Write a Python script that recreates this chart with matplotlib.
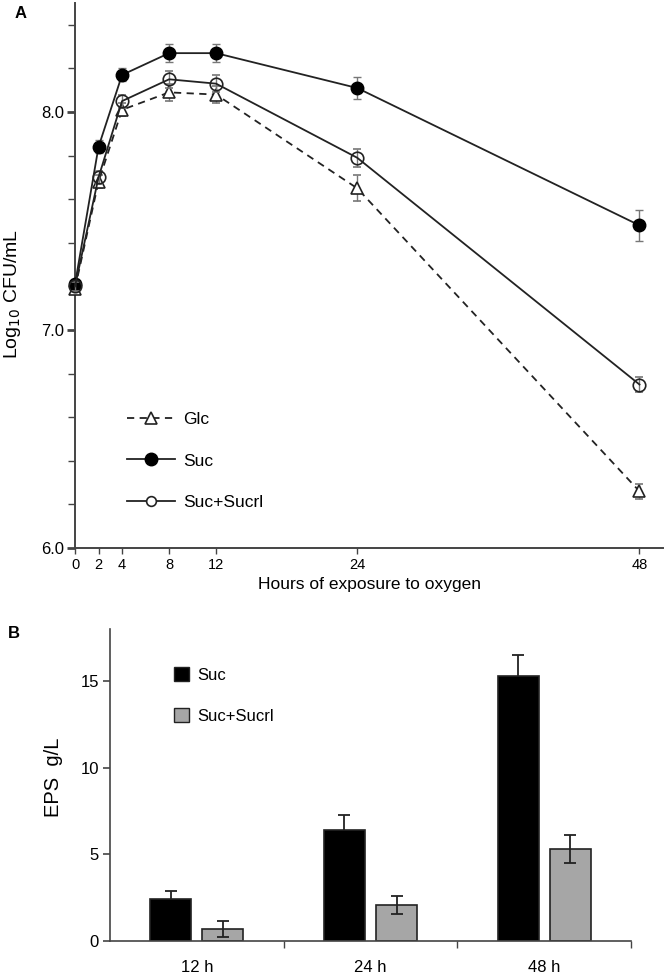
import matplotlib
matplotlib.use("Agg")
import matplotlib.pyplot as plt
from matplotlib.ticker import MultipleLocator, FixedLocator, NullFormatter
from matplotlib.patches import Patch
from matplotlib.lines import Line2D

plt.rcParams['font.family'] = ['Liberation Sans', 'DejaVu Sans']

# ---- Panel A data ----
hours = [0, 2, 4, 8, 12, 24, 48]
glc = [7.19, 7.68, 8.01, 8.09, 8.08, 7.65, 6.26]
glc_err = [0.02, 0.03, 0.03, 0.04, 0.04, 0.06, 0.035]
suc = [7.21, 7.84, 8.17, 8.27, 8.27, 8.11, 7.48]
suc_err = [0.02, 0.03, 0.03, 0.04, 0.04, 0.05, 0.07]
sucrl = [7.20, 7.70, 8.05, 8.15, 8.13, 7.79, 6.75]
sucrl_err = [0.02, 0.03, 0.03, 0.04, 0.04, 0.04, 0.035]
x_ticks_a = [0, 2, 4, 8, 12, 24, 48]

# ---- Panel B data ----
groups = ['12 h', '24 h', '48 h']
eps_suc = [2.41, 6.38, 15.29]
eps_suc_err = [0.46, 0.9, 1.2]
eps_sucrl = [0.69, 2.07, 5.29]
eps_sucrl_err = [0.48, 0.5, 0.8]

W, H = 666, 974
fig = plt.figure(figsize=(W / 100, H / 100), dpi=100)

spine_col = '#444444'
line_col = '#222222'
err_col = '#777777'
dash = (0, (4, 3))

# Panel A axes
axA = fig.add_axes([75 / W, 1 - 548 / H, (663 - 75) / W, (548 - 3) / H])
axA.set_xlim(0, 50)
axA.set_ylim(6.0, 8.5)

kw_err = dict(ecolor=err_col, elinewidth=1.0, capsize=3, capthick=1.0, clip_on=False)
axA.errorbar(hours, glc, yerr=glc_err, color=line_col, linestyle=dash, lw=1.3,
             marker='^', markersize=9, markerfacecolor='white', markeredgecolor=line_col,
             markeredgewidth=1.2, zorder=3, **kw_err)
axA.errorbar(hours, suc, yerr=suc_err, color=line_col, linestyle='-', lw=1.3,
             marker='o', markersize=9, markerfacecolor='black', markeredgecolor='black',
             zorder=4, **kw_err)
axA.errorbar(hours, sucrl, yerr=sucrl_err, color=line_col, linestyle='-', lw=1.3,
             marker='o', markersize=9, markerfacecolor='none', markeredgecolor=line_col,
             markeredgewidth=1.2, zorder=5, **kw_err)

for s in ['top', 'right']:
    axA.spines[s].set_visible(False)
for s in ['left', 'bottom']:
    axA.spines[s].set_color(spine_col)
    axA.spines[s].set_linewidth(1.4)

axA.set_xticks(x_ticks_a)
axA.set_xticklabels([str(v) for v in x_ticks_a])
axA.set_yticks([6.0, 7.0, 8.0])
axA.set_yticklabels(['6.0', '7.0', '8.0'])
axA.yaxis.set_minor_locator(MultipleLocator(0.2))
axA.tick_params(axis='y', which='major', length=6, width=2, color=spine_col, labelsize=12, pad=2)
axA.tick_params(axis='y', which='minor', length=5, width=1, color=spine_col)
axA.tick_params(axis='x', which='major', length=4, width=1, color=spine_col, labelsize=10.5, pad=3)
axA.set_xlabel('Hours of exposure to oxygen', fontsize=12.5, labelpad=4)
axA.set_ylabel('Log$_{10}$ CFU/mL', fontsize=14)
axA.yaxis.set_label_coords(-0.088, 0.466)

legA_handles = [
    Line2D([], [], color=line_col, linestyle=dash, lw=1.3, marker='^', markersize=8,
           markerfacecolor='white', markeredgecolor=line_col, markeredgewidth=1.2),
    Line2D([], [], color=line_col, linestyle='-', lw=1.3, marker='o', markersize=9,
           markerfacecolor='black', markeredgecolor='black'),
    Line2D([], [], color=line_col, linestyle='-', lw=1.3, marker='o', markersize=7,
           markerfacecolor='white', markeredgecolor=line_col, markeredgewidth=1.2),
]
axA.legend(legA_handles, ['Glc', 'Suc', 'Suc+Sucrl'], loc='upper left',
           bbox_to_anchor=(0.077, 0.262), frameon=False, fontsize=12.5, handlelength=2.76,
           labelspacing=1.5, handletextpad=0.45, borderaxespad=0)

fig.text(15 / W, 1 - 13 / H, 'A', fontsize=12, fontweight='bold', va='center', ha='left')

# Panel B axes
axB = fig.add_axes([110 / W, 1 - 941 / H, (631 - 110) / W, (941 - 629) / H])
axB.set_xlim(-0.5, 2.5)
axB.set_ylim(0, 18)
xpos = list(range(len(groups)))
off = 0.15
bw = 0.236
axB.bar([p - off for p in xpos], eps_suc, width=bw, color='black', edgecolor='#222222',
        linewidth=1.2, zorder=2)
axB.bar([p + off for p in xpos], eps_sucrl, width=bw, color='#a6a6a6', edgecolor='#222222',
        linewidth=1.2, zorder=2)
axB.errorbar([p - off for p in xpos], eps_suc, yerr=eps_suc_err, fmt='none', ecolor='#222222',
             elinewidth=1.3, capsize=4.5, capthick=1.3, zorder=1)
axB.errorbar([p + off for p in xpos], eps_sucrl, yerr=eps_sucrl_err, fmt='none', ecolor='#222222',
             elinewidth=1.3, capsize=4.5, capthick=1.3, zorder=3)

for s in ['top', 'right']:
    axB.spines[s].set_visible(False)
for s in ['left', 'bottom']:
    axB.spines[s].set_color(spine_col)
    axB.spines[s].set_linewidth(1.2)

axB.set_yticks([0, 5, 10, 15])
axB.tick_params(axis='y', length=5, width=1.2, color=spine_col, labelsize=12, pad=3)
axB.xaxis.set_major_locator(FixedLocator([0.5, 1.5, 2.5]))
axB.xaxis.set_major_formatter(NullFormatter())
axB.xaxis.set_minor_locator(FixedLocator(xpos))
axB.set_xticklabels(groups, minor=True)
axB.tick_params(axis='x', which='major', length=5, width=1, color=spine_col)
axB.tick_params(axis='x', which='minor', length=0, labelsize=12, pad=14)
axB.set_ylabel('EPS  g/L', fontsize=14.5)
axB.yaxis.set_label_coords(-0.090, 0.526)

handles = [Patch(facecolor='black', edgecolor='#222222'),
           Patch(facecolor='#a6a6a6', edgecolor='#222222')]
axB.legend(handles, ['Suc', 'Suc+Sucrl'], loc='upper left', bbox_to_anchor=(0.111, 0.90),
           frameon=False, fontsize=12, handlelength=0.9, handleheight=0.9,
           labelspacing=1.53, handletextpad=0.45, borderaxespad=0)

fig.text(8 / W, 1 - 634 / H, 'B', fontsize=12, fontweight='bold', va='center', ha='left')

fig.savefig('out.png', dpi=100)
